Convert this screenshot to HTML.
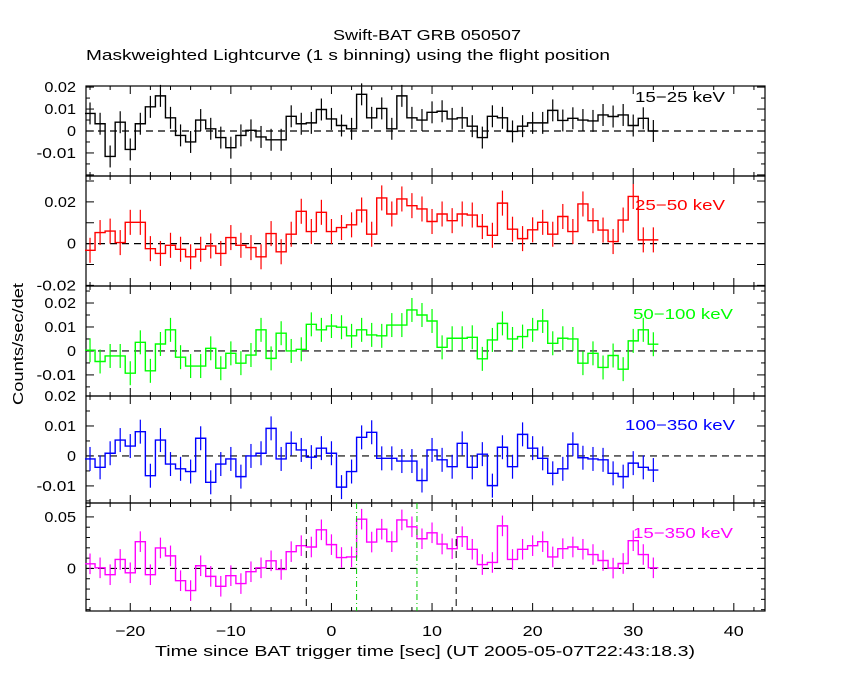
<!DOCTYPE html>
<html><head><meta charset="utf-8"><style>
body{margin:0;background:#fff;}
svg{display:block;font-family:"Liberation Sans",sans-serif;}
</style></head><body>
<svg id="chart" width="850" height="680" viewBox="0 0 850 680">
<text x="333" y="40" font-size="15" textLength="188" lengthAdjust="spacingAndGlyphs">Swift-BAT GRB 050507</text>
<text x="86" y="60" font-size="15" textLength="524" lengthAdjust="spacingAndGlyphs">Maskweighted Lightcurve (1 s binning) using the flight position</text>
<text transform="translate(23,344) rotate(-90)" text-anchor="middle" font-size="15" textLength="122" lengthAdjust="spacingAndGlyphs">Counts/sec/det</text>
<text x="155" y="656" font-size="15" textLength="540" lengthAdjust="spacingAndGlyphs">Time since BAT trigger time [sec] (UT 2005-05-07T22:43:18.3)</text>
</svg>
<script>
const xTicks=[-20,-10,0,10,20,30,40];
const timeStart=-24;
const vals1=[0.008,0.0033,-0.0116,0.004,-0.0084,0.0033,0.011,0.016,0.006,-0.002,-0.005,0.005,0.001,-0.003,-0.0076,-0.002,0.0003,-0.0027,-0.004,-0.004,0.0067,0.0033,0.0037,0.0098,0.0055,0.0025,0.001,0.0167,0.006,0.0103,0.001,0.016,0.006,0.005,0.0085,0.009,0.0055,0.006,0.0022,-0.003,0.0067,0.006,-0.0002,0.0022,0.0037,0.0037,0.0094,0.0048,0.0058,0.005,0.0046,0.0073,0.0066,0.0073,0.0025,0.0058,0];
const vals2=[-0.0032,0.0053,0.006,0.0005,0.0102,0.0102,-0.0024,-0.0047,-0.0008,-0.0027,-0.0063,-0.0027,-0.0011,-0.0047,0.0029,-0.0008,-0.0019,-0.0063,0.0048,-0.0039,0.0045,0.0155,0.0058,0.015,0.0058,0.0077,0.009,0.0161,0.0045,0.0219,0.0142,0.0214,0.0182,0.0166,0.0106,0.0142,0.011,0.0142,0.0137,0.0082,0.004,0.0194,0.0069,0.0024,0.0066,0.0102,0.0045,0.013,0.0058,0.019,0.011,0.0065,0.001,0.0113,0.0226,0.0018,0.0018];
const vals3=[0.0003,-0.0044,-0.0021,-0.0021,-0.0093,0.0036,-0.0083,0.0029,0.0088,-0.0026,-0.0063,-0.0063,0.0011,-0.0072,-0.001,-0.0051,-0.0017,0.0088,-0.0031,0.0074,0,0.0007,0.0111,0.0088,0.0104,0.0099,0.0063,0.0088,0.0067,0.0063,0.0108,0.0108,0.0171,0.015,0.0125,0.0015,0.0053,0.0053,0.0057,-0.0033,0.0046,0.0115,0.005,0.006,0.0088,0.0125,0.0032,0.0053,0.005,-0.0051,-0.001,-0.0069,-0.0019,-0.0076,0.0042,0.0088,0.0028];
const vals4=[-0.001,-0.0038,0.0009,0.0053,0.0033,0.0081,-0.0066,0.0053,-0.0027,-0.0043,-0.0052,0.0059,-0.0088,-0.0027,-0.001,-0.0069,0,0.0009,0.0092,-0.001,0.0042,0.002,-0.0004,0.0026,0.0009,-0.0104,-0.0052,0.0062,0.0079,-0.0008,-0.0008,-0.0017,-0.0017,-0.0082,0.002,-0.0013,-0.0036,0.0042,-0.0038,0.0006,-0.0099,0.0029,-0.0036,0.0072,0.0026,-0.0008,-0.0058,-0.0043,0.0039,-0.0006,-0.001,-0.0013,-0.0058,-0.0069,-0.0024,-0.0038,-0.0047];
const vals5=[0.0045,0.0006,-0.0061,0.0087,-0.0042,0.026,-0.0061,0.0199,0.0122,-0.0119,-0.0215,0.0026,-0.0077,-0.0173,-0.007,-0.0147,-0.0032,0.0006,0.0074,-0.001,0.0163,0.0221,0.0208,0.0375,0.0231,0.0106,0.0112,0.0478,0.0256,0.0381,0.026,0.0471,0.0404,0.0288,0.0346,0.0237,0.0192,0.0308,0.0186,0.0038,0.0058,0.0413,0.0087,0.0186,0.0221,0.026,0.0112,0.0192,0.0208,0.0186,0.0135,0.0077,0.0003,0.0048,0.0269,0.0135,0.0006];
const errs=[0.005,0.006,0.005,0.004,0.01];
const bandLabels=["15\u221225 keV","25\u221250 keV","50\u2212100 keV","100\u2212350 keV","15\u2212350 keV"];
const yTickLabels1=[0.02,0.01,0,-0.01];
const yTickLabels2=[0.02,0,-0.02];
const yTickLabels3=[0.02,0.01,0,-0.01];
const yTickLabels4=[0.02,0.01,0,-0.01];
const yTickLabels5=[0.05,0];
const markerLinesBlack=[-2.5,12.4];
const markerLinesGreen=[2.5,8.5];

const NS="http://www.w3.org/2000/svg";
const svg=document.getElementById('chart');
const X0=86,X1=765,T0=-24.4,T1=43.1;
function sx(t){return X0+(t-T0)/(T1-T0)*(X1-X0);}
function mk(tag,attrs,parent){const e=document.createElementNS(NS,tag);for(const k in attrs)e.setAttribute(k,attrs[k]);(parent||svg).appendChild(e);return e;}

const panels=[
 {top:86,bot:176,ymin:-0.0205,ymax:0.0205,vals:vals1,col:"#000",labels:yTickLabels1,step:0.005,lx:725,ly:102},
 {top:176,bot:286,ymin:-0.0203,ymax:0.0324,vals:vals2,col:"#f00",labels:yTickLabels2,step:0.01,lx:725,ly:210},
 {top:286,bot:396,ymin:-0.0188,ymax:0.0271,vals:vals3,col:"#0f0",labels:yTickLabels3,step:0.005,lx:733,ly:319},
 {top:396,bot:503,ymin:-0.0157,ymax:0.020,vals:vals4,col:"#00f",labels:yTickLabels4,step:0.005,lx:735,ly:430},
 {top:503,bot:611,ymin:-0.0413,ymax:0.0635,vals:vals5,col:"#f0f",labels:yTickLabels5,step:0.01,lx:733,ly:538}
];
panels.forEach((p,pi)=>{
 const g=mk('g',{});
 
 
 const sy=v=>p.bot-(v-p.ymin)/(p.ymax-p.ymin)*(p.bot-p.top);
 const fr=mk('rect',{x:X0,y:p.top,width:X1-X0,height:p.bot-p.top,fill:'none',stroke:'#000','stroke-width':1.2},g);
 
 
 for(let t=-24;t<=42;t+=2){const maj=(t%10===0);const L=maj?8:4;
  mk('line',{x1:sx(t),x2:sx(t),y1:p.bot,y2:p.bot-L,stroke:'#000'},g);
  mk('line',{x1:sx(t),x2:sx(t),y1:p.top,y2:p.top+L,stroke:'#000'},g);}
 const s=p.step;
 for(let v=Math.ceil(p.ymin/s)*s;v<=p.ymax+1e-9;v+=s){
  const maj=Math.abs(Math.round(v/0.01)*0.01-v)<1e-9 && (pi!==4||Math.abs(Math.round(v/0.05)*0.05-v)<1e-9);
  const L=maj?8:4;const y=sy(v);
  mk('line',{x1:X0,x2:X0+L,y1:y,y2:y,stroke:'#000'},g);
  mk('line',{x1:X1,x2:X1-L,y1:y,y2:y,stroke:'#000'},g);}
 p.labels.forEach(v=>{const str=(v===0?'0':String(v));
  const t=mk('text',{x:76,y:sy(v)+5,'text-anchor':'end','font-size':15,textLength:(str.length===1?9:str.length*7.9),lengthAdjust:'spacingAndGlyphs'},g);
  t.textContent=str;
  
  });
 mk('line',{x1:X0,x2:X1,y1:sy(0),y2:sy(0),stroke:'#000','stroke-dasharray':'7,5','stroke-width':1.2},g);
 let d='';
 p.vals.forEach((v,i)=>{const c=timeStart+i;const y=sy(v);
  d+=(i===0?'M':'L')+sx(c-0.5)+','+y+'L'+sx(c+0.5)+','+y;});
 const path=mk('path',{d:d,fill:'none',stroke:p.col,'stroke-width':1.4},g);
 
 
 p.vals.forEach((v,i)=>{const c=timeStart+i;
  const e=mk('line',{x1:sx(c),x2:sx(c),y1:sy(v-errs[pi]),y2:sy(v+errs[pi]),stroke:p.col,'stroke-width':1.2},g);
  
  });
 const lb=mk('text',{x:p.lx,y:p.ly,'text-anchor':'end','font-size':15,fill:p.col,textLength:bandLabels[pi].length*10,lengthAdjust:'spacingAndGlyphs'},g);
 lb.textContent=bandLabels[pi];
 
 
 if(pi===4){
  markerLinesBlack.forEach(t=>{const l=mk('line',{x1:sx(t),x2:sx(t),y1:p.top,y2:p.bot,stroke:'#000','stroke-dasharray':'7,5'},g);
   
   });
  markerLinesGreen.forEach(t=>{const l=mk('line',{x1:sx(t),x2:sx(t),y1:p.top,y2:p.bot,stroke:'#0c0','stroke-dasharray':'6,3,1,3'},g);
   
   });
 }
});
xTicks.forEach(t=>{const str=(t<0?'\u2212'+(-t):String(t));
 const e=mk('text',{x:sx(t),y:636,'text-anchor':'middle','font-size':15,textLength:str.length*10,lengthAdjust:'spacingAndGlyphs'});
 e.textContent=str;
 
 });
</script>
</body></html>
